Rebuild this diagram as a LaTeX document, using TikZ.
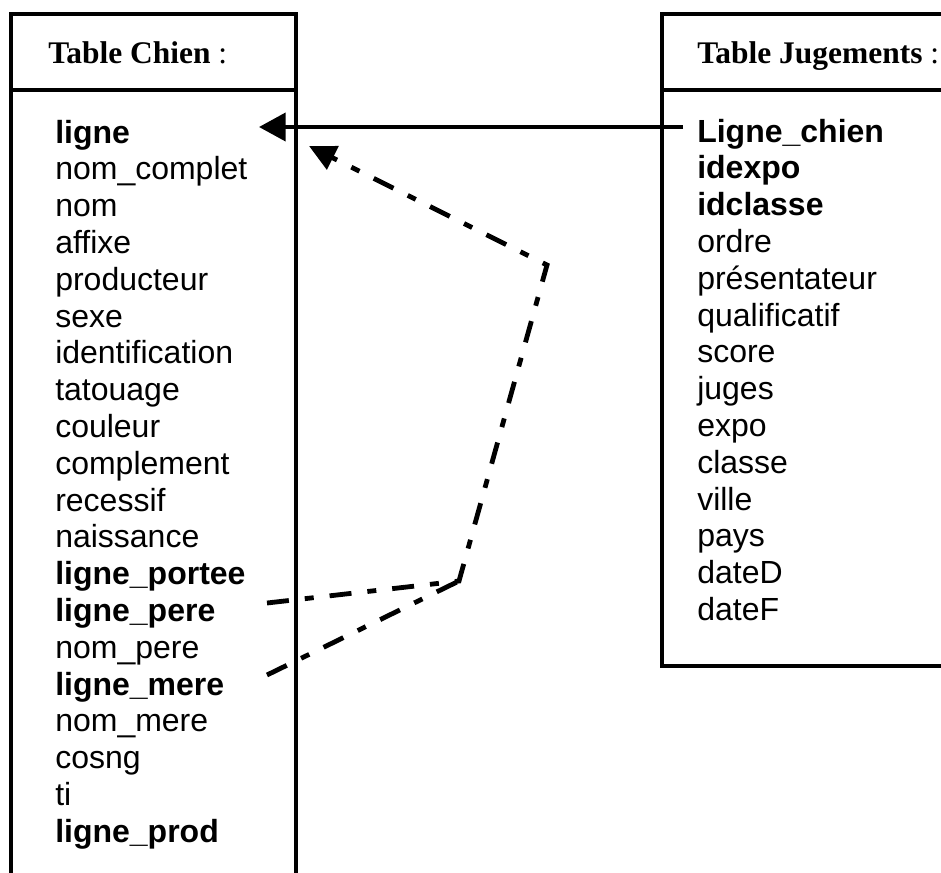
\documentclass[tikz,border=0pt]{standalone}
\usepackage{fontspec}
\setmainfont{Liberation Sans}
\newfontfamily\hdrfont{Liberation Serif}
\usetikzlibrary{arrows.meta}
\tikzset{
  frame/.style={line width=3.4pt},
  hdr/.style={anchor=base west, inner sep=0pt, font=\hdrfont\fontsize{23.6}{27}\selectfont},
  item/.style={anchor=base west, inner sep=0pt, font=\fontsize{24}{27.6}\selectfont},
  bitem/.style={item, font=\fontsize{24}{27.6}\selectfont\bfseries},
  solidarrow/.style={line width=3pt, -{Triangle[length=20pt,width=21pt]}},
  dashpat/.style={line width=3.6pt, dash pattern=on 16.5pt off 12pt on 6.75pt off 12pt},
  dasharrow/.style={dashpat, -{Triangle[length=20pt,width=19pt]}},
}
\begin{document}
\begin{tikzpicture}[x=0.75pt,y=-0.75pt]
\useasboundingbox (0,0) rectangle (941,872);
% boxes
\draw[frame] (11,900) -- (11,14) -- (296,14) -- (296,900);
\draw[frame] (11,90) -- (296,90);
\draw[frame] (990,14) -- (662,14) -- (662,666) -- (990,666);
\draw[frame] (662,90) -- (990,90);
% headers
\node[hdr] (hc) at (48,63) {\bfseries Table Chien\mdseries\ :};
\node[hdr] (hj) at (697,63) {\bfseries Table Jugements\mdseries\ :};
% left items
\def\sp{36.8}
\node[bitem] (c1) at (55,143) {ligne};
\node[item] (c2) at (55,143+1*\sp) {nom\_complet};
\node[item] (c3) at (55,143+2*\sp) {nom};
\node[item] (c4) at (55,143+3*\sp) {affixe};
\node[item] (c5) at (55,143+4*\sp) {producteur};
\node[item] (c6) at (55,143+5*\sp) {sexe};
\node[item] (c7) at (55,143+6*\sp) {identification};
\node[item] (c8) at (55,143+7*\sp) {tatouage};
\node[item] (c9) at (55,143+8*\sp) {couleur};
\node[item] (c10) at (55,143+9*\sp) {complement};
\node[item] (c11) at (55,143+10*\sp) {recessif};
\node[item] (c12) at (55,143+11*\sp) {naissance};
\node[bitem] (c13) at (55,143+12*\sp) {ligne\_portee};
\node[bitem] (c14) at (55,143+13*\sp) {ligne\_pere};
\node[item] (c15) at (55,143+14*\sp) {nom\_pere};
\node[bitem] (c16) at (55,143+15*\sp) {ligne\_mere};
\node[item] (c17) at (55,143+16*\sp) {nom\_mere};
\node[item] (c18) at (55,143+17*\sp) {cosng};
\node[item] (c19) at (55,143+18*\sp) {ti};
\node[bitem] (c20) at (55,143+19*\sp) {ligne\_prod};
% right items
\node[bitem] (j1) at (697,142) {Ligne\_chien};
\node[bitem] (j2) at (697,142+1*\sp) {idexpo};
\node[bitem] (j3) at (697,142+2*\sp) {idclasse};
\node[item] (j4) at (697,142+3*\sp) {ordre};
\node[item] (j5) at (697,142+4*\sp) {présentateur};
\node[item] (j6) at (697,142+5*\sp) {qualificatif};
\node[item] (j7) at (697,142+6*\sp) {score};
\node[item] (j8) at (697,142+7*\sp) {juges};
\node[item] (j9) at (697,142+8*\sp) {expo};
\node[item] (j10) at (697,142+9*\sp) {classe};
\node[item] (j11) at (697,142+10*\sp) {ville};
\node[item] (j12) at (697,142+11*\sp) {pays};
\node[item] (j13) at (697,142+12*\sp) {dateD};
\node[item] (j14) at (697,142+13*\sp) {dateF};
% connectors
\coordinate (jstart) at (683,127);
\coordinate (ltip) at (259,127);
\draw[solidarrow] (jstart) -- (ltip);
\coordinate (pe) at (267,603);
\coordinate (me) at (267,675);
\coordinate (jn) at (459,581);
\coordinate (cr) at (547,265);
\coordinate (dtip) at (309,146);
\draw[dasharrow] (pe) -- (jn) -- (cr) -- (dtip);
\draw[dashpat] (me) -- (jn);
\end{tikzpicture}
\end{document}
